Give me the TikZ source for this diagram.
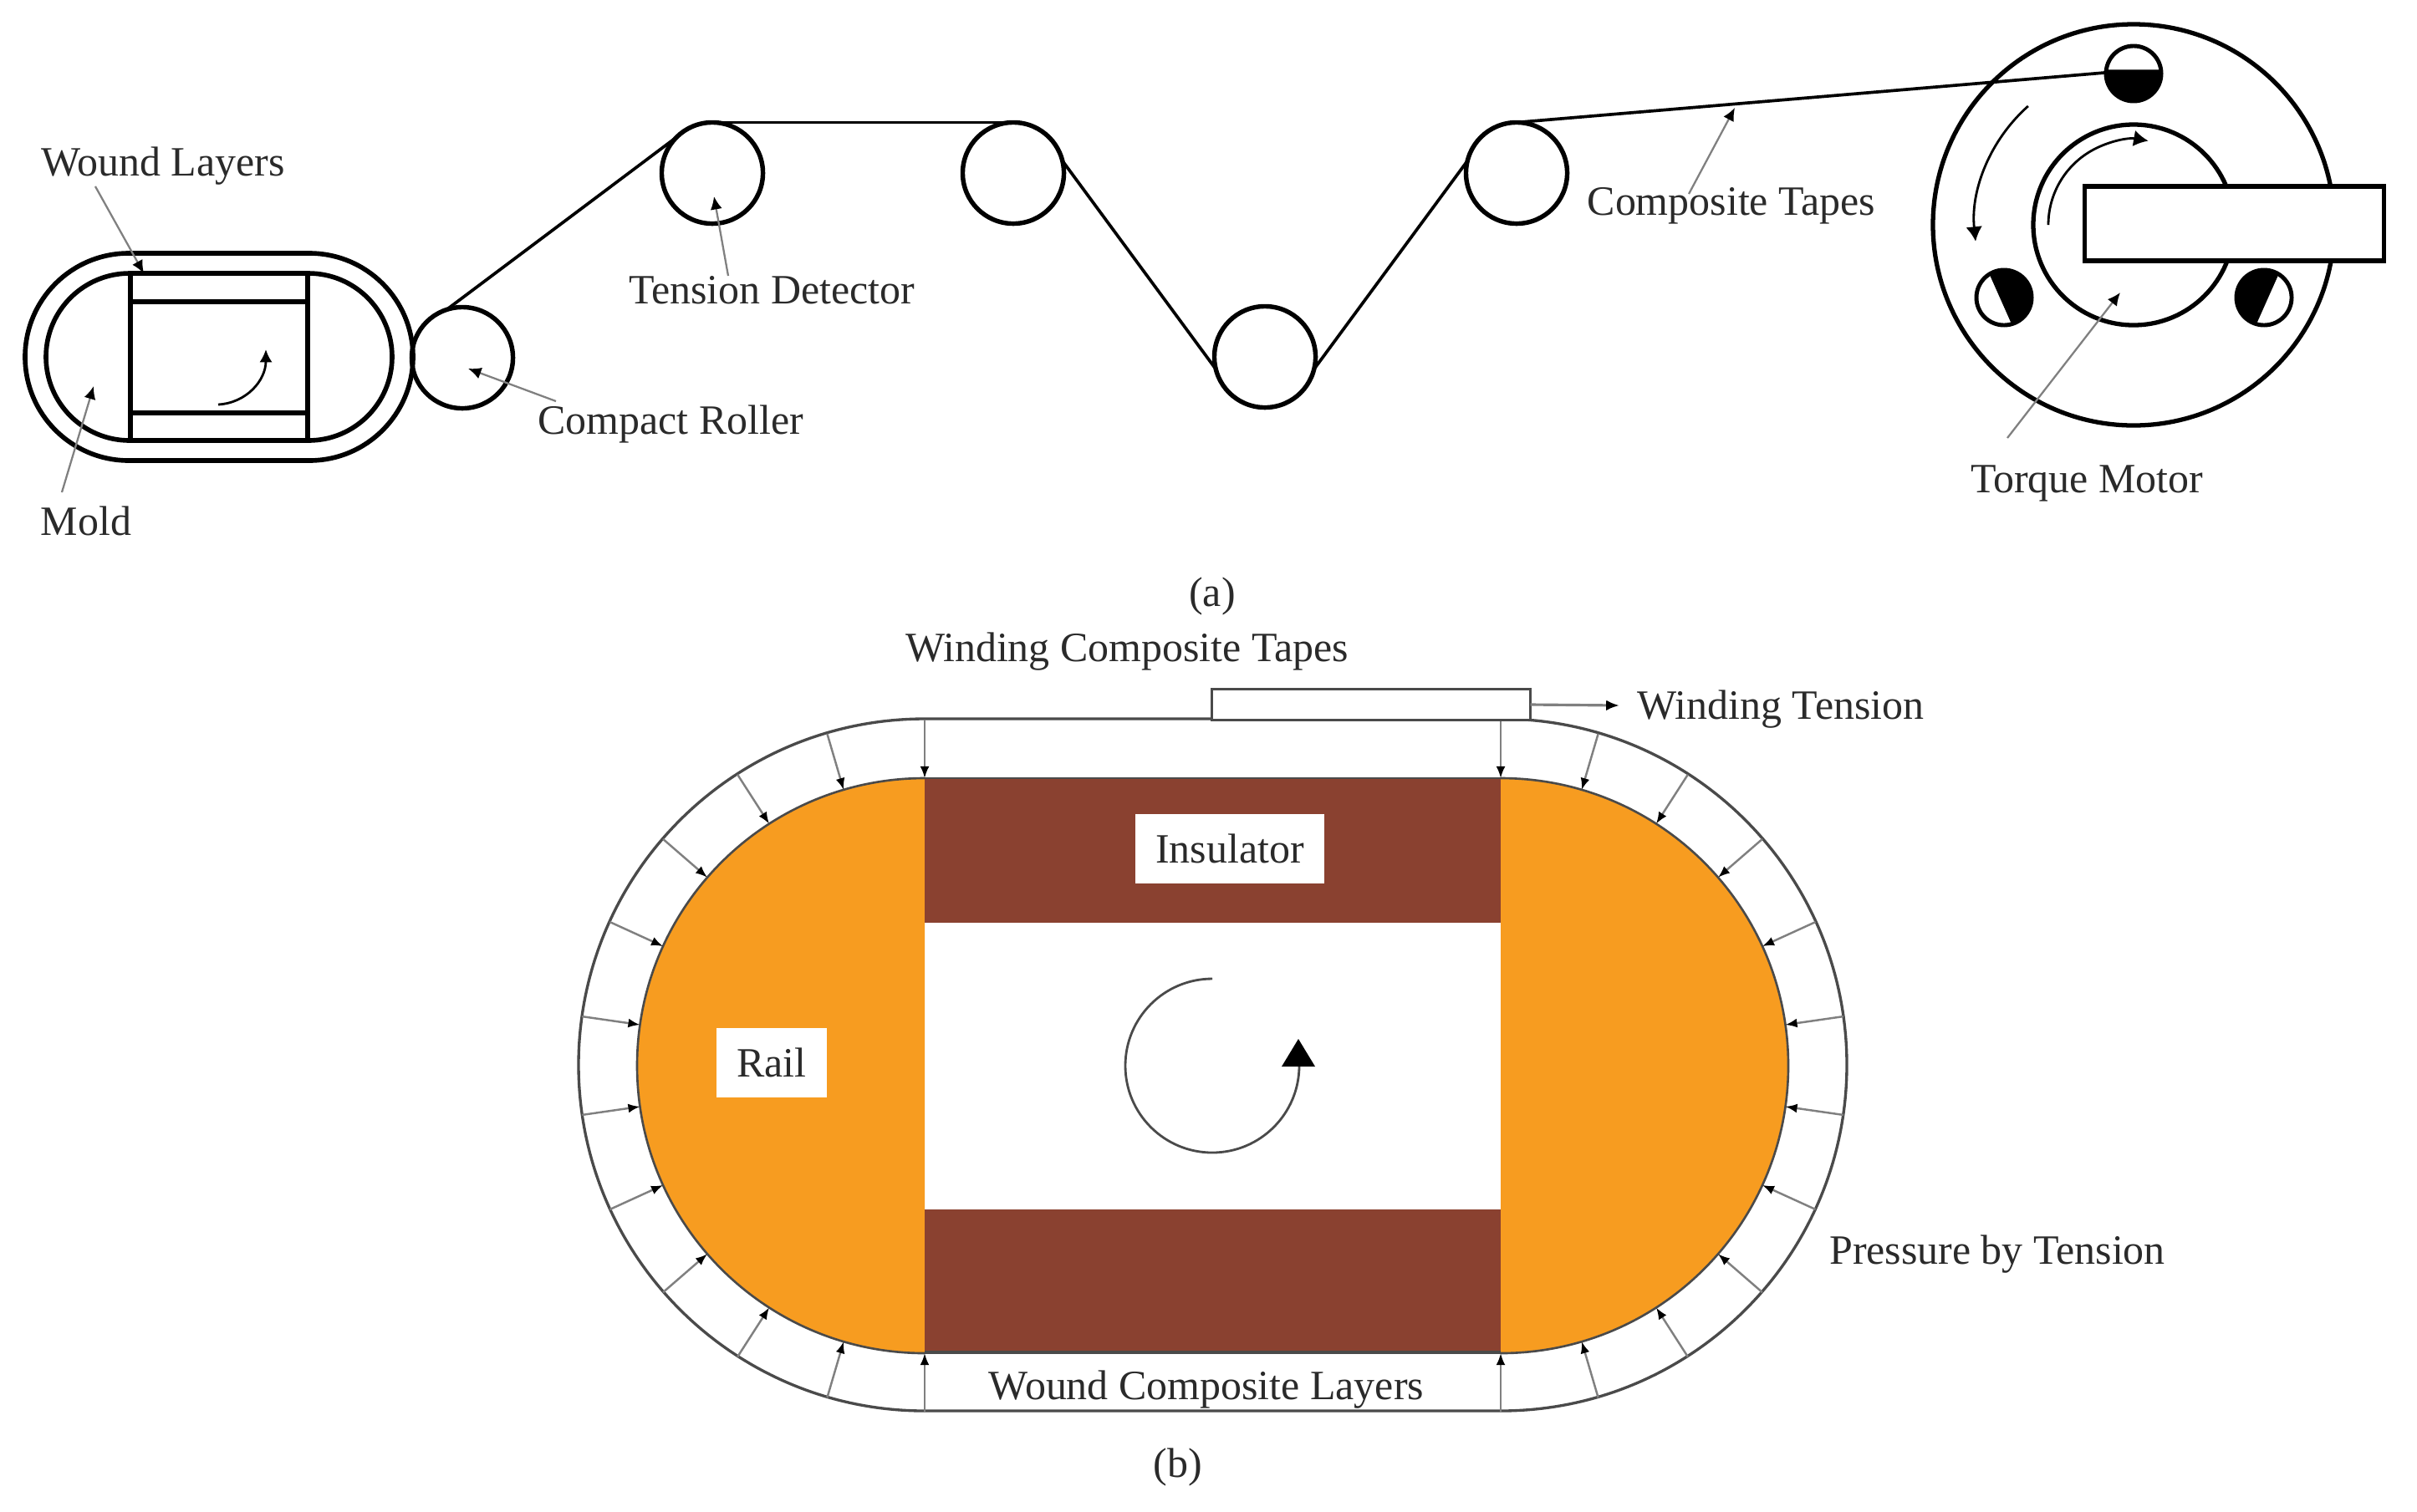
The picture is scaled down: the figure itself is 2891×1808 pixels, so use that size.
\documentclass[tikz,border=0pt]{standalone}
\usepackage{fontspec}
\setmainfont{Liberation Serif}
\usetikzlibrary{arrows.meta,calc}
\definecolor{railc}{HTML}{F79C20}
\definecolor{insc}{HTML}{8A4130}
\definecolor{txtc}{HTML}{2A2A2A}
\definecolor{linec}{HTML}{4A4A4A}
\definecolor{leadc}{HTML}{808080}
\tikzset{
  lbl/.style={font=\fontsize{14.2}{16}\selectfont,text=txtc,inner sep=0pt},
  boxlbl/.style={lbl,fill=white,inner sep=0pt},
  roller/.style={circle,draw=black,line width=1.55pt,minimum size=1.21cm,inner sep=0pt,outer sep=0pt},
  pinc/.style={circle,draw=black,line width=1.4pt,minimum size=0.66cm,inner sep=0pt,outer sep=0pt},
  belt/.style={line width=1.05pt,black},
  heavy/.style={line width=1.6pt,black},
  leader/.style={line width=0.65pt,leadc,-{Latex[length=4.4pt,width=4pt,black]}},
  press/.style={line width=0.7pt,color=leadc,-{Latex[length=4pt,width=3.1pt,black]}},
}
\begin{document}
\begin{tikzpicture}[x=0.01cm,y=0.01cm]
\useasboundingbox (0,0) rectangle (2891,-1808);
% ---------- (a) mold
\draw[heavy] (154,-303) -- (370,-303) arc (90:-90:124) -- (154,-551) arc (270:90:124) -- cycle;
\draw[heavy] (155,-327) -- (369,-327) arc (90:-90:100) -- (155,-527) arc (270:90:100) -- cycle;
\draw[heavy] (156,-327) -- (156,-527);
\draw[heavy] (368,-327) -- (368,-527);
\draw[heavy] (156,-361) -- (368,-361);
\draw[heavy] (156,-494) -- (368,-494);
\coordinate (rotS) at (261,-484);
\coordinate (rotE) at (318,-418);
\draw[line width=0.8pt,black,-{Latex[length=4.4pt,width=4.4pt]}] (rotS) .. controls (295,-482) and (318,-455) .. (rotE);
% rollers
\node[roller] (c) at (553,-428) {};
\node[roller] (r1) at (852,-207) {};
\node[roller] (r2) at (1212,-207) {};
\node[roller] (r3) at (1513,-427) {};
\node[roller] (r4) at (1814,-207) {};
% motor
\coordinate (mc) at (2552,-269);
\draw[line width=1.5pt] (mc) circle (240);
\draw[line width=1.5pt] (mc) circle (120);
\node[pinc] (p1) at (2552,-88) {};
\node[pinc] (p2) at (2397,-356) {};
\node[pinc] (p3) at (2708,-356) {};
\fill[black] ($(p1)+(8:33)$) arc (8:-188:33) -- cycle;
\fill[black] ($(p2)+(122:33)$) arc (122:-74:33) -- cycle;
\fill[black] ($(p3)+(58:33)$) arc (58:254:33) -- cycle;
\draw[line width=0.8pt,-{Latex[length=5pt,width=5.6pt]}] ($(mc)+(131.6:190)$) arc (131.6:186:190);
\draw[line width=0.8pt,-{Latex[length=5pt,width=5.6pt]}] ($(mc)+(180:102)$) arc (180:80:102);
\node[draw=black,fill=white,line width=1.6pt,minimum width=3.58cm,minimum height=0.89cm,inner sep=0pt,outer sep=0pt] (shaft) at (2672.5,-267.5) {};
% belts
\draw[belt] (c.108) -- (r1.135);
\draw[belt] (r1.north) -- (r2.north);
\draw[belt] (r2.14) -- (r3.194);
\draw[belt] (r3.-14) -- (r4.166);
\draw[belt] (r4.90) -- (p1.178);
% leaders and labels (a)
\node[lbl] (wl) at (195,-199) {Wound Layers};
\coordinate (wlA) at (114,-223);\coordinate (wlB) at (172,-327);
\draw[leader] (wlA) -- (wlB);
\node[lbl] (mold) at (103,-623) {Mold};
\coordinate (mA) at (74,-589);\coordinate (mB) at (112,-462);
\draw[leader] (mA) -- (mB);
\node[lbl] (cr) at (802,-507) {Compact Roller};
\coordinate (crA) at (665,-480);\coordinate (crB) at (560,-441);
\draw[leader] (crA) -- (crB);
\node[lbl] (td) at (923,-347) {Tension Detector};
\coordinate (tdA) at (871,-330);\coordinate (tdB) at (854,-235);
\draw[leader] (tdA) -- (tdB);
\node[lbl] (ct) at (2071,-246) {Composite Tapes};
\coordinate (ctA) at (2020,-232);\coordinate (ctB) at (2075,-129);
\draw[leader] (ctA) -- (ctB);
\node[lbl] (tm) at (2496,-578) {Torque Motor};
\coordinate (tmA) at (2401,-524);\coordinate (tmB) at (2536,-350);
\draw[leader] (tmA) -- (tmB);
\node[lbl] (capa) at (1450,-713) {(a)};
% ---------- (b)
\draw[line width=0.95pt,linec,fill=white] (1106,-860) -- (1795,-860) arc (90:-90:414) -- (1106,-1688) arc (270:90:414) -- cycle;
\fill[railc] (1106,-931) arc (90:270:344) -- cycle;
\fill[railc] (1795,-931) arc (90:-90:344) -- cycle;
\fill[insc] (1106,-931) rectangle (1795,-1104);
\fill[insc] (1106,-1447) rectangle (1795,-1618);
\draw[line width=0.75pt,linec] (1106,-931) arc (90:270:344);
\draw[line width=0.75pt,linec] (1795,-931) arc (90:-90:344);
\draw[line width=0.7pt,linec] (1106,-931) -- (1795,-931);
\draw[line width=0.95pt,linec] (1106,-1618) -- (1795,-1618);
\foreach \k in {0,...,11}{
  \pgfmathsetmacro{\aL}{90+\k*180/11}
  \pgfmathsetmacro{\aR}{90-\k*180/11}
  \coordinate (oL\k) at ($(1106,-1275)+(\aL:414)$);
  \coordinate (iL\k) at ($(1106,-1275)+(\aL:344)$);
  \coordinate (oR\k) at ($(1795,-1275)+(\aR:414)$);
  \coordinate (iR\k) at ($(1795,-1275)+(\aR:344)$);
  \draw[press] (oL\k) -- (iL\k);
  \draw[press] (oR\k) -- (iR\k);
}
\node[draw=linec,fill=white,line width=0.8pt,minimum width=3.81cm,minimum height=0.37cm,inner sep=0pt,outer sep=0pt] (wbox) at (1640,-843) {};
\coordinate (wtE) at (1937,-844);
\draw[line width=0.9pt,leadc,-{Latex[length=4.5pt,width=3.6pt,black]}] (wbox.east) -- (wtE);
\node[boxlbl,minimum width=1.32cm,minimum height=0.83cm] (rail) at (923,-1271) {Rail};
\node[boxlbl,minimum width=2.26cm,minimum height=0.83cm] (ins) at (1471,-1015) {Insulator};
\coordinate (rs) at ($(1450,-1275)+(90:104)$);
\draw[line width=0.8pt,linec] (rs) arc (90:360:104) coordinate (re);
\fill[black] (1553,-1243) -- (1573,-1276) -- (1533,-1276) -- cycle;
\node[lbl] (wct) at (1348,-780) {Winding Composite Tapes};
\node[lbl] (wt) at (2130,-849) {Winding Tension};
\node[lbl] (pt) at (2389,-1501) {Pressure by Tension};
\node[lbl] (wcl) at (1443,-1663) {Wound Composite Layers};
\node[lbl] (capb) at (1409,-1755) {(b)};
\end{tikzpicture}
\end{document}
